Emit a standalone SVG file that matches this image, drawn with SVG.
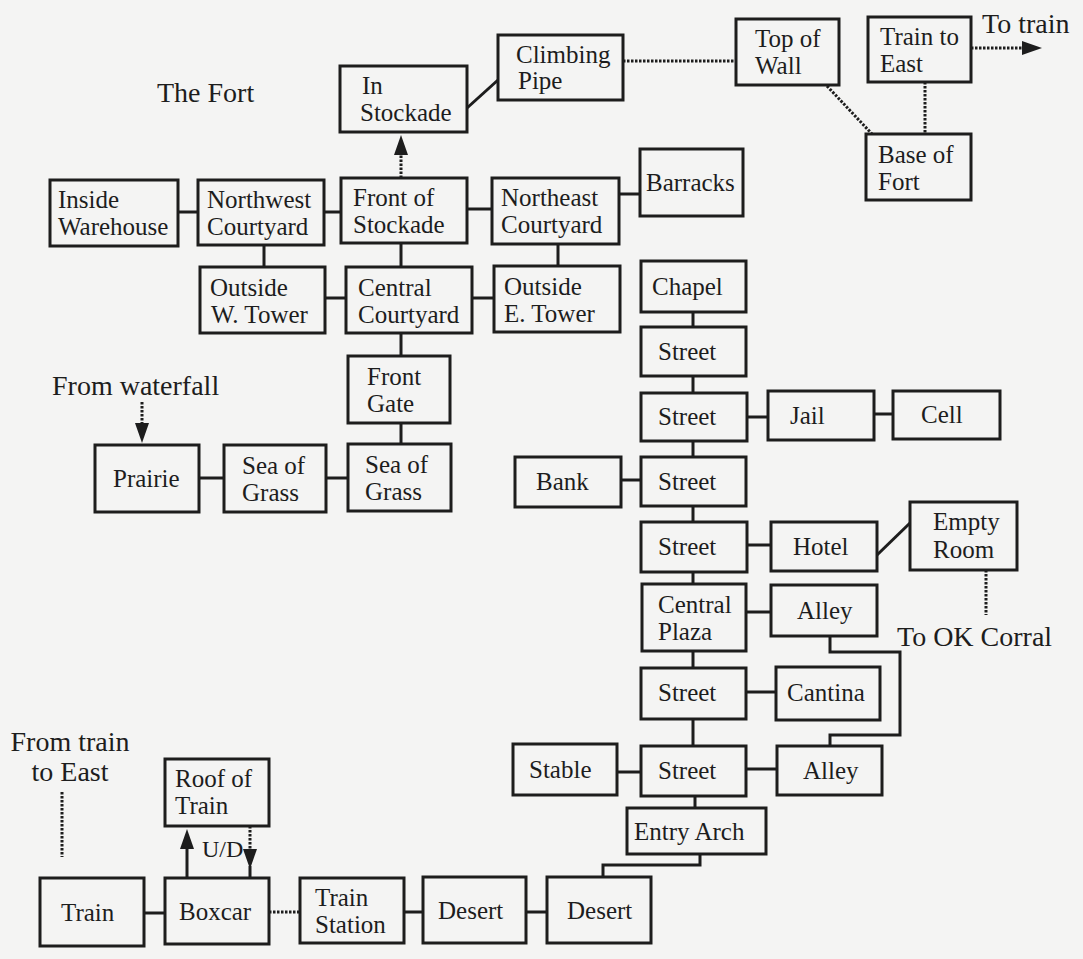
<svg xmlns="http://www.w3.org/2000/svg" width="1083" height="959" viewBox="0 0 1083 959">
<style>
.bg{fill:#f4f4f3}
rect.b{fill:none;stroke:#1d1d1d;stroke-width:3}
text{font-family:"Liberation Serif","Times New Roman",serif;fill:#1d1d1d}
.t{font-size:25px}
.l{font-size:28px}
.u{font-size:24px}
.c{fill:none;stroke:#1d1d1d;stroke-width:3}
.d{stroke-dasharray:2.5 1.5}
</style>
<defs>
<marker id="ah" markerUnits="userSpaceOnUse" markerWidth="20" markerHeight="14" refX="1" refY="7" orient="auto">
<path d="M0,0 L20,7 L0,14 z" fill="#1d1d1d"/>
</marker>
</defs>
<rect class="bg" x="0" y="0" width="1083" height="959"/>

<g id="labels">
<text class="l" x="157" y="102">The Fort</text>
<text class="l" x="982" y="33">To train</text>
<text class="l" x="52" y="395">From waterfall</text>
<text class="l" x="897" y="646">To OK Corral</text>
<text class="l" x="70" y="751" text-anchor="middle">From train</text>
<text class="l" x="70" y="781" text-anchor="middle">to East</text>
<text class="u" x="202" y="857">U/D</text>
</g>

<g id="connectors">
<line class="c" x1="178" y1="212" x2="198" y2="212"/>
<line class="c" x1="324" y1="212" x2="341" y2="212"/>
<line class="c" x1="467" y1="209" x2="492" y2="209"/>
<line class="c" x1="619" y1="194" x2="640" y2="194"/>
<line class="c" x1="467" y1="108" x2="498" y2="80"/>
<line class="c d" x1="623" y1="61" x2="736" y2="61"/>
<line class="c d" x1="827" y1="86" x2="872" y2="134"/>
<line class="c d" x1="925" y1="82" x2="925" y2="134"/>
<line class="c d" x1="971" y1="48" x2="1023" y2="48" marker-end="url(#ah)"/>
<line class="c d" x1="401" y1="178" x2="401" y2="154" marker-end="url(#ah)"/>
<line class="c" x1="264" y1="245" x2="264" y2="267"/>
<line class="c" x1="401" y1="243" x2="401" y2="267"/>
<line class="c" x1="558" y1="244" x2="558" y2="266"/>
<line class="c" x1="325" y1="298" x2="346" y2="298"/>
<line class="c" x1="472" y1="298" x2="494" y2="298"/>
<line class="c" x1="401" y1="333" x2="401" y2="356"/>
<line class="c" x1="401" y1="423" x2="401" y2="444"/>
<line class="c" x1="199" y1="478" x2="224" y2="478"/>
<line class="c" x1="326" y1="478" x2="348" y2="478"/>
<line class="c d" x1="142" y1="402" x2="142" y2="424" marker-end="url(#ah)"/>
<line class="c" x1="693" y1="312" x2="693" y2="327"/>
<line class="c" x1="693" y1="376" x2="693" y2="393"/>
<line class="c" x1="747" y1="417" x2="768" y2="417"/>
<line class="c" x1="874" y1="414" x2="893" y2="414"/>
<line class="c" x1="693" y1="441" x2="693" y2="457"/>
<line class="c" x1="621" y1="480" x2="641" y2="480"/>
<line class="c" x1="693" y1="506" x2="693" y2="522"/>
<line class="c" x1="747" y1="545" x2="771" y2="545"/>
<line class="c" x1="877" y1="555" x2="910" y2="523"/>
<line class="c d" x1="986" y1="570" x2="986" y2="615"/>
<line class="c" x1="693" y1="572" x2="693" y2="584"/>
<line class="c" x1="746" y1="612" x2="771" y2="612"/>
<line class="c" x1="693" y1="651" x2="693" y2="668"/>
<line class="c" x1="746" y1="692" x2="776" y2="692"/>
<polyline class="c" points="830,636 830,652 900,652 900,735 830,735 830,746"/>
<line class="c" x1="693" y1="719" x2="693" y2="746"/>
<line class="c" x1="617" y1="772" x2="641" y2="772"/>
<line class="c" x1="746" y1="769" x2="777" y2="769"/>
<line class="c" x1="695" y1="796" x2="695" y2="808"/>
<polyline class="c" points="700,854 700,865 603,865 603,877"/>
<line class="c" x1="144" y1="913" x2="165" y2="913"/>
<line class="c d" x1="269" y1="912" x2="300" y2="912"/>
<line class="c" x1="404" y1="912" x2="423" y2="912"/>
<line class="c" x1="526" y1="912" x2="547" y2="912"/>
<line class="c" x1="187" y1="878" x2="187" y2="848" marker-end="url(#ah)"/>
<line class="c d" x1="250" y1="826" x2="250" y2="850" marker-end="url(#ah)"/>
<line class="c" x1="250" y1="866" x2="250" y2="878"/>
<line class="c d" x1="62" y1="792" x2="62" y2="857"/>
</g>

<g id="n-in-stockade"><rect class="b" x="340" y="66" width="127" height="66"/><text class="t" x="362" y="94">In</text><text class="t" x="360" y="121">Stockade</text></g>
<g id="n-climbing-pipe"><rect class="b" x="498" y="35" width="125" height="65"/><text class="t" x="516" y="63">Climbing</text><text class="t" x="518" y="89">Pipe</text></g>
<g id="n-top-of-wall"><rect class="b" x="736" y="19" width="103" height="66"/><text class="t" x="755" y="47">Top of</text><text class="t" x="755" y="74">Wall</text></g>
<g id="n-train-to-east"><rect class="b" x="868" y="17" width="103" height="65"/><text class="t" x="880" y="45">Train to</text><text class="t" x="880" y="72">East</text></g>
<g id="n-base-of-fort"><rect class="b" x="866" y="134" width="105" height="66"/><text class="t" x="878" y="163">Base of</text><text class="t" x="878" y="190">Fort</text></g>
<g id="n-inside-warehouse"><rect class="b" x="50" y="180" width="128" height="66"/><text class="t" x="58" y="208">Inside</text><text class="t" x="58" y="235">Warehouse</text></g>
<g id="n-northwest-courtyard"><rect class="b" x="198" y="180" width="126" height="65"/><text class="t" x="207" y="208">Northwest</text><text class="t" x="207" y="235">Courtyard</text></g>
<g id="n-front-of-stockade"><rect class="b" x="341" y="178" width="126" height="65"/><text class="t" x="353" y="206">Front of</text><text class="t" x="353" y="233">Stockade</text></g>
<g id="n-northeast-courtyard"><rect class="b" x="492" y="178" width="127" height="66"/><text class="t" x="501" y="206">Northeast</text><text class="t" x="501" y="233">Courtyard</text></g>
<g id="n-barracks"><rect class="b" x="640" y="149" width="103" height="67"/><text class="t" x="646" y="191">Barracks</text></g>
<g id="n-outside-w-tower"><rect class="b" x="200" y="267" width="125" height="66"/><text class="t" x="210" y="296">Outside</text><text class="t" x="211" y="323">W. Tower</text></g>
<g id="n-central-courtyard"><rect class="b" x="346" y="267" width="126" height="66"/><text class="t" x="358" y="296">Central</text><text class="t" x="358" y="323">Courtyard</text></g>
<g id="n-outside-e-tower"><rect class="b" x="494" y="266" width="126" height="66"/><text class="t" x="504" y="295">Outside</text><text class="t" x="504" y="322">E. Tower</text></g>
<g id="n-front-gate"><rect class="b" x="348" y="356" width="102" height="67"/><text class="t" x="367" y="385">Front</text><text class="t" x="367" y="412">Gate</text></g>
<g id="n-prairie"><rect class="b" x="95" y="445" width="104" height="67"/><text class="t" x="113" y="487">Prairie</text></g>
<g id="n-sea-of-grass-1"><rect class="b" x="224" y="445" width="102" height="67"/><text class="t" x="242" y="474">Sea of</text><text class="t" x="242" y="501">Grass</text></g>
<g id="n-sea-of-grass-2"><rect class="b" x="348" y="444" width="103" height="67"/><text class="t" x="365" y="473">Sea of</text><text class="t" x="365" y="500">Grass</text></g>
<g id="n-chapel"><rect class="b" x="641" y="261" width="105" height="51"/><text class="t" x="652" y="295">Chapel</text></g>
<g id="n-street-1"><rect class="b" x="641" y="327" width="105" height="49"/><text class="t" x="658" y="360">Street</text></g>
<g id="n-street-2"><rect class="b" x="641" y="393" width="106" height="48"/><text class="t" x="658" y="425">Street</text></g>
<g id="n-jail"><rect class="b" x="768" y="391" width="106" height="49"/><text class="t" x="790" y="424">Jail</text></g>
<g id="n-cell"><rect class="b" x="893" y="391" width="107" height="48"/><text class="t" x="921" y="423">Cell</text></g>
<g id="n-bank"><rect class="b" x="515" y="457" width="106" height="50"/><text class="t" x="536" y="490">Bank</text></g>
<g id="n-street-3"><rect class="b" x="641" y="457" width="105" height="49"/><text class="t" x="658" y="490">Street</text></g>
<g id="n-street-4"><rect class="b" x="641" y="522" width="106" height="50"/><text class="t" x="658" y="555">Street</text></g>
<g id="n-hotel"><rect class="b" x="771" y="522" width="106" height="49"/><text class="t" x="793" y="555">Hotel</text></g>
<g id="n-empty-room"><rect class="b" x="910" y="502" width="107" height="68"/><text class="t" x="933" y="530">Empty</text><text class="t" x="933" y="558">Room</text></g>
<g id="n-central-plaza"><rect class="b" x="642" y="584" width="104" height="67"/><text class="t" x="658" y="613">Central</text><text class="t" x="658" y="640">Plaza</text></g>
<g id="n-alley-1"><rect class="b" x="771" y="585" width="106" height="51"/><text class="t" x="797" y="619">Alley</text></g>
<g id="n-street-5"><rect class="b" x="641" y="668" width="105" height="51"/><text class="t" x="658" y="701">Street</text></g>
<g id="n-cantina"><rect class="b" x="776" y="667" width="104" height="53"/><text class="t" x="787" y="701">Cantina</text></g>
<g id="n-stable"><rect class="b" x="513" y="744" width="104" height="51"/><text class="t" x="529" y="778">Stable</text></g>
<g id="n-street-6"><rect class="b" x="641" y="746" width="105" height="50"/><text class="t" x="658" y="779">Street</text></g>
<g id="n-alley-2"><rect class="b" x="777" y="746" width="105" height="49"/><text class="t" x="803" y="779">Alley</text></g>
<g id="n-entry-arch"><rect class="b" x="627" y="808" width="139" height="46"/><text class="t" x="634" y="840">Entry Arch</text></g>
<g id="n-roof-of-train"><rect class="b" x="165" y="759" width="104" height="67"/><text class="t" x="175" y="787">Roof of</text><text class="t" x="175" y="814">Train</text></g>
<g id="n-train"><rect class="b" x="40" y="878" width="104" height="68"/><text class="t" x="61" y="921">Train</text></g>
<g id="n-boxcar"><rect class="b" x="165" y="878" width="104" height="66"/><text class="t" x="179" y="920">Boxcar</text></g>
<g id="n-train-station"><rect class="b" x="300" y="878" width="104" height="65"/><text class="t" x="315" y="906">Train</text><text class="t" x="315" y="933">Station</text></g>
<g id="n-desert-1"><rect class="b" x="423" y="877" width="103" height="66"/><text class="t" x="438" y="919">Desert</text></g>
<g id="n-desert-2"><rect class="b" x="547" y="877" width="104" height="66"/><text class="t" x="567" y="919">Desert</text></g>
</svg>
